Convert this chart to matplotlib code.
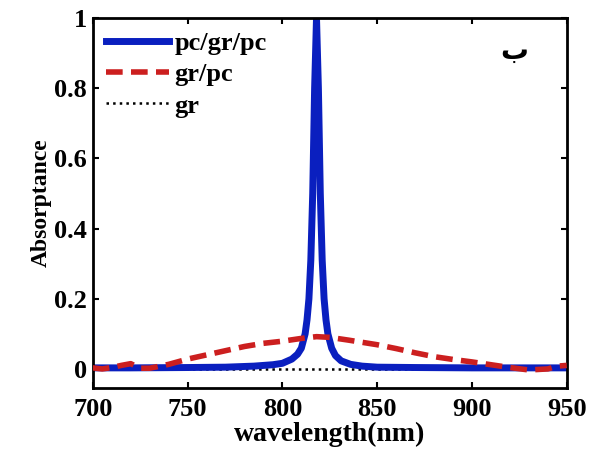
#absorptance spectra
import matplotlib
matplotlib.use("Agg")
import matplotlib.pyplot as plt
import numpy as np

plt.rcParams['font.family'] = ['Liberation Serif', 'DejaVu Sans']
plt.rcParams['font.weight'] = 'bold'

# pc/gr/pc - sharp resonance
wl_pgp = [700, 720, 750, 770, 785, 795, 800, 805, 808, 810, 812, 813, 814, 815, 816, 817, 818,
          819, 820, 821, 822, 823, 824, 826, 828, 831, 836, 842, 850, 870, 900, 950]
ab_pgp = [0.003, 0.003, 0.004, 0.005, 0.008, 0.012, 0.016, 0.028, 0.042, 0.059, 0.1, 0.14, 0.2,
          0.31, 0.5, 0.8, 1.0, 0.8, 0.5, 0.31, 0.2, 0.14, 0.1, 0.059, 0.038, 0.023, 0.013, 0.008,
          0.005, 0.004, 0.003, 0.003]

# gr/pc - broad peak
wl_gp = [700, 705, 710, 715, 720, 725, 730, 740, 750, 760, 770, 780, 790, 800, 810, 818,
         825, 835, 850, 860, 870, 880, 890, 900, 910, 920, 930, 940, 945, 950]
ab_gp = [0.003, 0.0, 0.004, 0.01, 0.015, 0.002, 0.002, 0.013, 0.028, 0.04, 0.052, 0.064,
         0.073, 0.079, 0.087, 0.092, 0.09, 0.082, 0.069, 0.058, 0.046, 0.035, 0.027, 0.02,
         0.012, 0.004, -0.003, 0.0, 0.008, 0.01]

# gr - bare graphene
wl_g = [700, 750, 800, 850, 900, 950]
ab_g = [-0.001, -0.001, -0.001, -0.001, -0.001, -0.001]

fig, ax = plt.subplots(figsize=(5.91, 4.53), dpi=100)
ax.plot(wl_g, ab_g, ':', color='black', lw=1.8, label='gr', zorder=1)
ax.plot(wl_pgp, ab_pgp, '-', color='#0a1fbf', lw=5, label='pc/gr/pc', zorder=2)
ax.plot(wl_gp, ab_gp, '--', color='#cc1f1f', lw=4, dashes=(3, 1.5), label='gr/pc', zorder=3)

ax.set_xlim(700, 950)
ax.set_ylim(-0.055, 1)
ax.set_xticks([700, 750, 800, 850, 900, 950])
ax.set_yticks([0, 0.2, 0.4, 0.6, 0.8, 1])
ax.set_yticklabels(['0', '0.2', '0.4', '0.6', '0.8', '1'])
ax.tick_params(direction='in', top=True, right=True, length=4, width=1.5, labelsize=19, pad=4)
ax.tick_params(axis='x', pad=7)
for s in ax.spines.values():
    s.set_linewidth(2)

ax.set_xlabel('wavelength(nm)', fontsize=20, fontweight='bold', labelpad=1)
ax.set_ylabel('Absorptance', fontsize=17, fontweight='bold', labelpad=2)

h, l = ax.get_legend_handles_labels()
order = [1, 2, 0]
ax.legend([h[i] for i in order], [l[i] for i in order], loc='upper left', frameon=False,
          handlelength=2.4, handletextpad=0.2, labelspacing=0.3,
          borderaxespad=0.1, prop={'weight': 'bold', 'size': 19})

ax.text(0.89, 0.91, 'ب', transform=ax.transAxes, fontsize=20, fontweight='bold',
        ha='center', va='center', family=['DejaVu Sans'])

plt.subplots_adjust(left=0.157, right=0.959, top=0.96, bottom=0.143)
plt.savefig('out.png')
